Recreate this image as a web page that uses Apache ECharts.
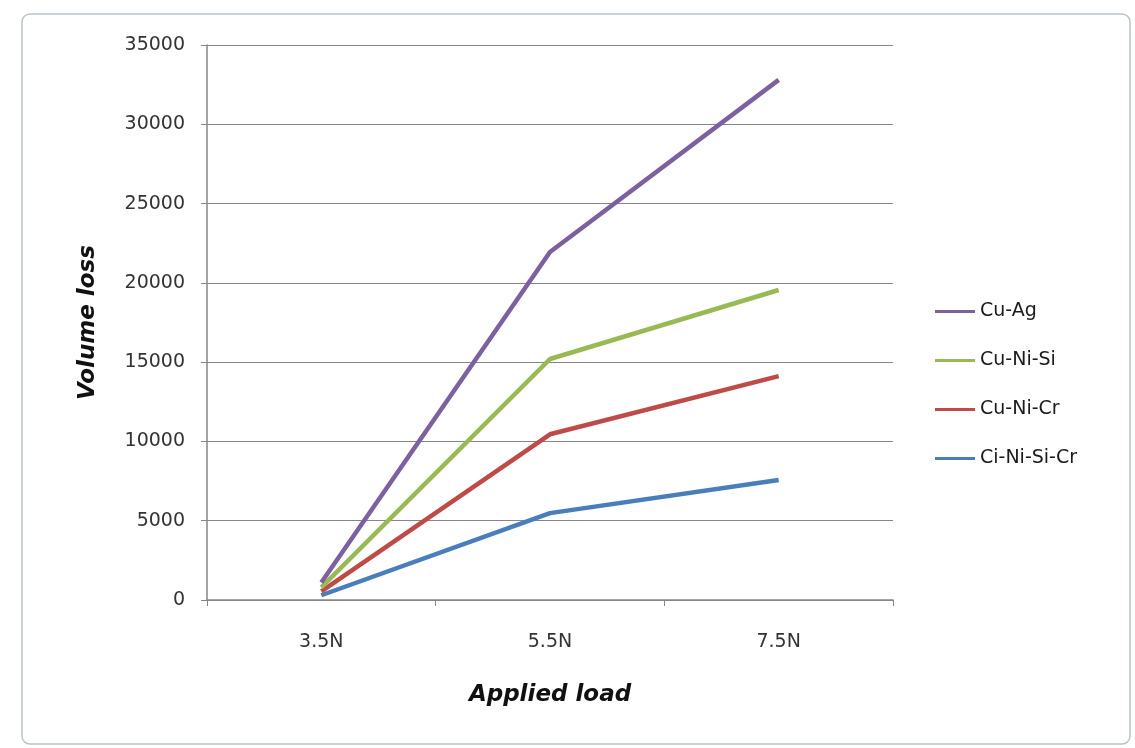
<!DOCTYPE html>
<html>
<head>
<meta charset="utf-8">
<script src="https://cdn.jsdelivr.net/npm/echarts@6/dist/echarts.min.js"></script>
<style>html,body{margin:0;padding:0;background:#fff;}#c{width:1135px;height:748px;}</style>
</head>
<body>
<div id="c"></div>
<script>
const categories = ['3.5N', '5.5N', '7.5N'];
const seriesNames = ['Cu-Ag', 'Cu-Ni-Si', 'Cu-Ni-Cr', 'Ci-Ni-Si-Cr'];
const cuAg = [1100, 21950, 32800];
const cuNiSi = [800, 15200, 19550];
const cuNiCr = [550, 10450, 14120];
const ciNiSiCr = [300, 5480, 7570];
const yTicks = [0, 5000, 10000, 15000, 20000, 25000, 30000, 35000];

const colors = ['#7D60A0', '#98B954', '#BE4B48', '#4A7EBB'];
const values = [cuAg, cuNiSi, cuNiCr, ciNiSiCr];
const font = '"DejaVu Sans", sans-serif';

const chart = echarts.init(document.getElementById('c'));
chart.setOption({
  backgroundColor: '#fff',
  animation: false,
  graphic: [{
    type: 'rect', shape: {x: 22, y: 14, width: 1108, height: 730, r: 8},
    style: {fill: 'none', stroke: '#b9c3cc', lineWidth: 1.5}, silent: true, z: -10
  }],
  grid: {left: 207, top: 45, width: 686, height: 555, containLabel: false},
  legend: {
    orient: 'vertical', left: 930, top: 297, itemGap: 30,
    itemWidth: 40, itemHeight: 3, icon: 'rect',
    textStyle: {fontFamily: font, fontSize: 19, color: '#1a1a1a'},
    data: seriesNames
  },
  xAxis: {
    type: 'category', data: categories, boundaryGap: true,
    name: 'Applied load', nameLocation: 'middle', nameGap: 84,
    nameTextStyle: {fontFamily: font, fontSize: 23, fontWeight: 'bold', fontStyle: 'italic', color: '#111'},
    axisLine: {lineStyle: {color: '#868686', width: 1.5}},
    axisTick: {show: true, alignWithLabel: false, length: 6, lineStyle: {color: '#868686'}},
    axisLabel: {fontFamily: font, fontSize: 19, color: '#333', margin: 33}
  },
  yAxis: {
    type: 'value', min: 0, max: 35000, interval: 5000,
    name: 'Volume loss', nameLocation: 'middle', nameGap: 107, nameRotate: 90,
    nameTextStyle: {fontFamily: font, fontSize: 23, fontWeight: 'bold', fontStyle: 'italic', color: '#111'},
    axisLine: {show: true, lineStyle: {color: '#868686', width: 1.5}},
    axisTick: {show: true, length: 6, lineStyle: {color: '#868686'}},
    axisLabel: {fontFamily: font, fontSize: 19, color: '#333', margin: 22,
      formatter: v => yTicks.includes(v) ? String(v) : ''},
    splitLine: {lineStyle: {color: '#868686', width: 1.2}}
  },
  series: seriesNames.map((n, i) => ({
    name: n, type: 'line', data: values[i], symbol: 'none',
    lineStyle: {color: colors[i], width: 4.5}, itemStyle: {color: colors[i]},
    z: 10 - i
  }))
});
</script>
</body>
</html>
